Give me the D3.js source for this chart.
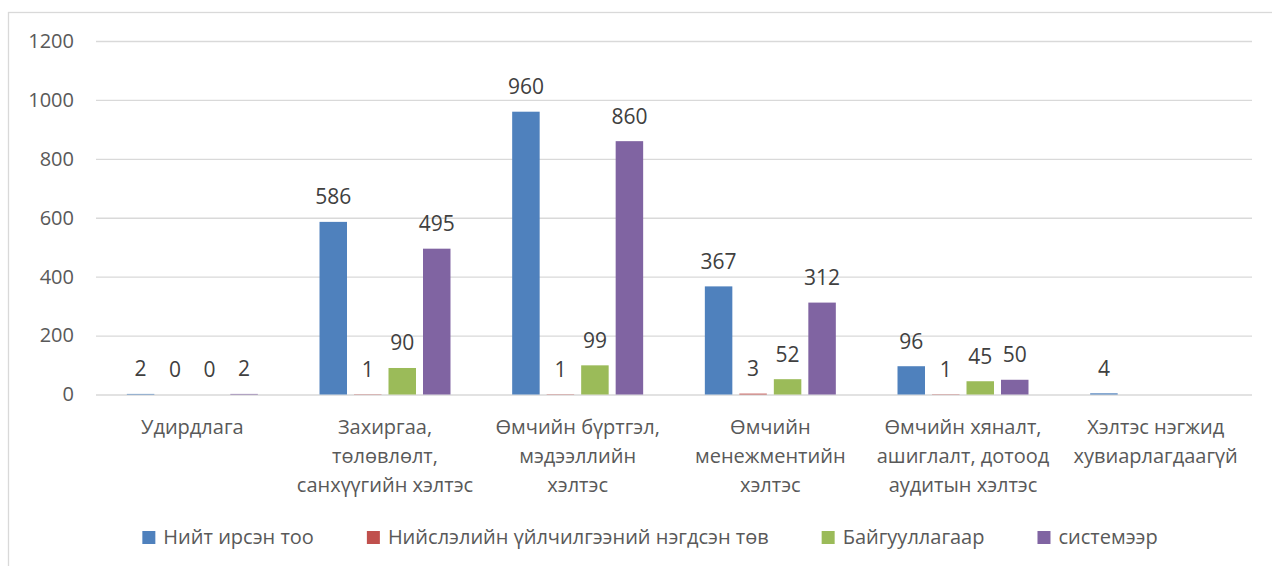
<!DOCTYPE html>
<html>
<head>
<meta charset="utf-8">
<script src="https://cdn.jsdelivr.net/npm/d3@7"></script>
<style>
  body { margin: 0; background: #fff; }
  svg { display: block; font-family: "Open Sans", sans-serif; }
</style>
</head>
<body>
<div id="chart"></div>
<script>
// categories, split into the lines shown under the axis
const categories = [
    ['Удирдлага'],
    ['Захиргаа,', 'төлөвлөлт,', 'санхүүгийн хэлтэс'],
    ['Өмчийн бүртгэл,', 'мэдээллийн', 'хэлтэс'],
    ['Өмчийн', 'менежментийн', 'хэлтэс'],
    ['Өмчийн хяналт,', 'ашиглалт, дотоод', 'аудитын хэлтэс'],
    ['Хэлтэс нэгжид', 'хувиарлагдаагүй']
];
const seriesNames = ['Нийт ирсэн тоо', 'Нийслэлийн үйлчилгээний нэгдсэн төв', 'Байгууллагаар', 'системээр'];
const seriesColors = ['#4f81bd', '#c0504d', '#9bbb59', '#8064a2'];

const totalValues = [2, 586, 960, 367, 96, 4];
const centerValues = [0, 1, 1, 3, 1, null];
const orgValues = [0, 90, 99, 52, 45, null];
const systemValues = [2, 495, 860, 312, 50, null];
const seriesValues = [totalValues, centerValues, orgValues, systemValues];

const yTicks = [0, 200, 400, 600, 800, 1000, 1200];

const W = 1272, H = 566;
const svg = d3.select('#chart').append('svg')
    .attr('width', W)
    .attr('height', H);

// chart frame (runs off the right and bottom edges)
svg.append('rect')
    .attr('x', 8.5).attr('y', 12.5)
    .attr('width', 1320).attr('height', 620)
    .attr('fill', 'none')
    .attr('stroke', '#d9d9d9')
    .attr('stroke-width', 1.3);

const y = d3.scaleLinear().domain([0, 1200]).range([394.5, 41]);
const x0 = d3.scaleBand().domain(d3.range(categories.length)).range([96, 1252]).padding(0);
const x1 = d3.scaleBand().domain(d3.range(seriesNames.length))
    .range([0, x0.bandwidth()])
    .paddingInner(0.203)
    .paddingOuter(0.894);

// gridlines + y labels
const yAxis = d3.axisLeft(y).tickValues(yTicks).tickFormat(d3.format('d'))
    .tickSize(-(1252 - 96)).tickPadding(22);
const gy = svg.append('g').attr('transform', 'translate(96,0)').call(yAxis);
gy.select('.domain').remove();
gy.selectAll('.tick line').attr('stroke', '#d9d9d9').attr('stroke-width', 1.3);
gy.selectAll('.tick text')
    .attr('fill', '#595959')
    .style('font-size', '20px')
    .style('font-family', '"Open Sans", sans-serif');

// bars
const groups = svg.append('g').selectAll('g')
    .data(categories)
    .join('g')
    .attr('transform', (d, i) => `translate(${x0(i)},0)`);

seriesNames.forEach((name, s) => {
    const vals = seriesValues[s];
    groups.append('rect')
        .filter((d, i) => vals[i] != null)
        .attr('x', x1(s))
        .attr('width', x1.bandwidth())
        .attr('y', (d, i) => y(vals[i]))
        .attr('height', (d, i) => y(0) - y(vals[i]))
        .attr('fill', seriesColors[s]);
});

// value labels
seriesNames.forEach((name, s) => {
    const vals = seriesValues[s];
    groups.append('text')
        .filter((d, i) => vals[i] != null)
        .attr('x', x1(s) + x1.bandwidth() / 2)
        .attr('y', (d, i) => y(vals[i]) - 17.5)
        .attr('text-anchor', 'middle')
        .attr('fill', '#404040')
        .style('font-size', '21px')
        .text((d, i) => vals[i]);
});

// category labels
const catLabels = svg.append('g').selectAll('text')
    .data(categories)
    .join('text')
    .attr('x', (d, i) => x0(i) + x0.bandwidth() / 2)
    .attr('y', 434)
    .attr('text-anchor', 'middle')
    .attr('fill', '#595959')
    .style('font-size', '20px');
catLabels.selectAll('tspan')
    .data(d => d)
    .join('tspan')
    .attr('x', function() { return d3.select(this.parentNode).attr('x'); })
    .attr('dy', (d, j) => j === 0 ? 0 : 29)
    .text(d => d);

// legend
const legend = svg.append('g');
const items = legend.selectAll('g')
    .data(seriesNames)
    .join('g');
items.append('rect')
    .attr('width', 13).attr('height', 13)
    .attr('y', 531)
    .attr('fill', (d, i) => seriesColors[i]);
items.append('text')
    .attr('x', 21)
    .attr('y', 544)
    .attr('fill', '#595959')
    .style('font-size', '20px')
    .text(d => d);

let lx = 0;
const gap = 53;
items.each(function() {
    const g = d3.select(this);
    g.attr('transform', `translate(${lx},0)`);
    lx += 21 + g.select('text').node().getComputedTextLength() + gap;
});
const legendWidth = lx - gap;
legend.attr('transform', `translate(${650 - legendWidth / 2},0)`);
</script>
</body>
</html>
